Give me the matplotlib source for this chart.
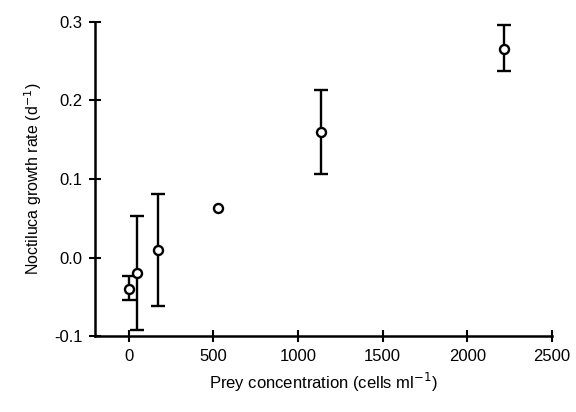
import matplotlib.pyplot as plt
import numpy as np

plt.rcParams['font.family'] = ['Liberation Sans', 'DejaVu Sans']
plt.rcParams['axes.unicode_minus'] = False

prey = [0, 50, 175, 525, 1135, 2215]
growth = [-0.040, -0.019, 0.010, 0.063, 0.160, 0.265]
# no visible error bar on the 525 point
err_low = [0.014, 0.073, 0.072, np.nan, 0.053, 0.028]
err_high = [0.016, 0.072, 0.071, np.nan, 0.053, 0.031]

fig = plt.figure(figsize=(5.76, 4.12), dpi=100)
ax = fig.add_axes([0.165, 0.184, 0.793, 0.763])

ax.errorbar(prey, growth, yerr=[err_low, err_high], fmt='o', color='black',
            mfc='white', mec='black', ms=6.5, mew=1.7, elinewidth=1.7,
            capsize=5, capthick=1.7)

ax.set_xlim(-200, 2500)
ax.set_ylim(-0.1, 0.3)
ax.set_xticks([0, 500, 1000, 1500, 2000, 2500])
ax.set_yticks([-0.1, 0.0, 0.1, 0.2, 0.3])
ax.set_yticklabels(['-0.1', '0.0', '0.1', '0.2', '0.3'])

for s in ['top', 'right']:
    ax.spines[s].set_visible(False)
for s in ['left', 'bottom']:
    ax.spines[s].set_linewidth(1.8)
ax.tick_params(direction='inout', length=8, width=1.5, labelsize=12, pad=5)

ax.set_xlabel('Prey concentration (cells ml$^{-1}$)', fontsize=12, labelpad=5)
ax.set_ylabel('Noctiluca growth rate (d$^{-1}$)', fontsize=11.5, labelpad=7)

fig.savefig('out.png', dpi=100)
